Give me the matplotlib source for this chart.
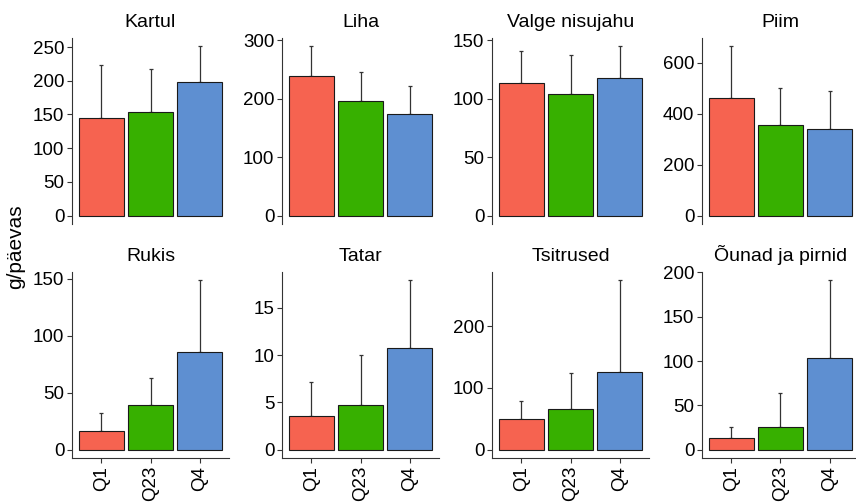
# daily intake (g/päevas) by quarter group, faceted by food item

import matplotlib
matplotlib.use("Agg")
import matplotlib.pyplot as plt
import numpy as np

plt.rcParams["font.family"] = ["Liberation Sans", "DejaVu Sans"]

# data
foods = ["Kartul", "Liha", "Valge nisujahu", "Piim",
         "Rukis", "Tatar", "Tsitrused", "Õunad ja pirnid"]
groups = ["Q1", "Q23", "Q4"]

means = [
    [145, 154, 197.5],
    [238, 196, 173],
    [113.3, 104, 117.2],
    [462, 357, 342],
    [16, 39.2, 85.8],
    [3.6, 4.75, 10.7],
    [49.7, 65.8, 126],
    [12.6, 26, 103],
]
upper = [
    [223, 218, 251],
    [289, 245, 222],
    [140.7, 137, 144.6],
    [665, 502, 490],
    [32.5, 62.8, 148.5],
    [7.1, 10.03, 17.9],
    [79, 123.5, 274],
    [25.6, 63.6, 191],
]
tick_steps = [50, 100, 50, 200, 50, 5, 100, 50]

colors = ["#F66350", "#37B000", "#5E8FD1"]

fig = plt.figure(figsize=(8.56, 5.04), dpi=100)
W, H = 856, 504
lefts = [72, 282, 492, 702]
tops = [38, 272]
pw, ph = 157, 186

x = np.arange(1, len(groups) + 1)

for i, food in enumerate(foods):
    row, col = divmod(i, 4)
    ax = fig.add_axes([lefts[col] / W, 1 - (tops[row] + ph) / H, pw / W, ph / H])

    m = np.array(means[i])
    sd = np.array(upper[i]) - m
    ax.errorbar(x, m, yerr=[np.zeros_like(sd), sd], fmt="none",
                ecolor="#333333", elinewidth=0.9, capsize=1.5, capthick=0.9, zorder=1)
    ax.bar(x, m, width=0.9, color=colors, edgecolor="#1a1a1a", linewidth=0.8, zorder=2)

    # ggplot-like 5% expansion
    top = max(upper[i])
    ymax = 1.05 * top
    ax.set_ylim(-0.05 * top, ymax)
    ax.set_xlim(0.4, 3.6)
    step = tick_steps[i]
    ax.set_yticks(np.arange(0, ymax + 1e-9, step))

    ax.set_title(food, fontsize=14, pad=8)
    for s in ["top", "right"]:
        ax.spines[s].set_visible(False)
    ax.spines["left"].set_color("#333333")
    ax.spines["left"].set_linewidth(0.8)
    ax.tick_params(axis="y", labelsize=13.5, length=3.5, width=0.8, color="#333333", pad=2)

    if row == 0:
        ax.spines["bottom"].set_visible(False)
        ax.set_xticks([])
    else:
        ax.spines["bottom"].set_color("#333333")
        ax.spines["bottom"].set_linewidth(0.8)
        ax.set_xticks(x)
        ax.set_xticklabels(groups, rotation=90, va="top", ha="center")
        ax.tick_params(axis="x", labelsize=13.5, length=3.5, width=0.8, color="#333333", pad=2)

fig.text(16 / W, 1 - 247 / H, "g/päevas", rotation=90, ha="center", va="center", fontsize=15)

fig.savefig("out.png", dpi=100)
